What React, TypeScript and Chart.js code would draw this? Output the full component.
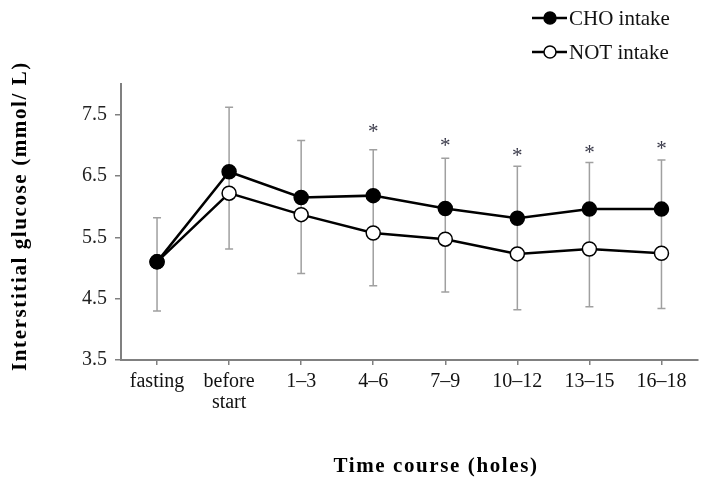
import React, { useEffect, useRef } from "react";
import { Chart, registerables } from "chart.js";

Chart.register(...registerables);

const categories: (string | string[])[] = ["fasting", ["before", "start"], "1–3", "4–6", "7–9", "10–12", "13–15", "16–18"];
const choIntake = [5.1, 6.57, 6.15, 6.18, 5.97, 5.81, 5.96, 5.96];
const notIntake = [5.1, 6.22, 5.87, 5.57, 5.47, 5.23, 5.31, 5.24];
const errUpper = [5.82, 7.62, 7.08, 6.93, 6.79, 6.66, 6.72, 6.76];
const errLower = [4.3, 5.31, 4.91, 4.71, 4.61, 4.32, 4.37, 4.34];
const sigLevel: (number | null)[] = [null, null, null, 7.27, 7.04, 6.88, 6.93, 6.99];
const yTicks = [3.5, 4.5, 5.5, 6.5, 7.5];
const legendLabels = ["CHO intake", "NOT intake"];
const xTitle = "Time course (holes)";
const yTitle = "Interstitial glucose (mmol/ L)";

const SERIF = "'Liberation Serif', 'Times New Roman', serif";

const overlayPlugin = {
  id: "overlay",
  beforeDatasetsDraw(chart: any) {
    const ctx = chart.ctx;
    const x = chart.scales.x;
    const y = chart.scales.y;
    ctx.save();
    ctx.strokeStyle = "#a0a0a0";
    ctx.lineWidth = 1.5;
    for (let i = 0; i < categories.length; i++) {
      const px = x.getPixelForValue(i);
      const t = y.getPixelForValue(errUpper[i]);
      const b = y.getPixelForValue(errLower[i]);
      ctx.beginPath();
      ctx.moveTo(px, t);
      ctx.lineTo(px, b);
      ctx.moveTo(px - 4, t);
      ctx.lineTo(px + 4, t);
      ctx.moveTo(px - 4, b);
      ctx.lineTo(px + 4, b);
      ctx.stroke();
    }
    ctx.restore();
  },
  afterDraw(chart: any) {
    const ctx = chart.ctx;
    const x = chart.scales.x;
    const y = chart.scales.y;
    ctx.save();
    // asterisks
    ctx.fillStyle = "#3a3a4a";
    ctx.font = `21px ${SERIF}`;
    ctx.textAlign = "center";
    ctx.textBaseline = "middle";
    for (let i = 0; i < sigLevel.length; i++) {
      const v = sigLevel[i];
      if (v == null) continue;
      ctx.fillText("*", x.getPixelForValue(i), y.getPixelForValue(v) + 4);
    }
    // legend
    const rows = [
      { label: legendLabels[0], fill: "#000", yy: 18 },
      { label: legendLabels[1], fill: "#fff", yy: 52 },
    ];
    for (const r of rows) {
      ctx.strokeStyle = "#000";
      ctx.lineWidth = 2.5;
      ctx.beginPath();
      ctx.moveTo(532, r.yy);
      ctx.lineTo(567, r.yy);
      ctx.stroke();
      ctx.beginPath();
      ctx.arc(550, r.yy, 6, 0, Math.PI * 2);
      ctx.fillStyle = r.fill;
      ctx.fill();
      ctx.lineWidth = 1.5;
      ctx.stroke();
      ctx.fillStyle = "#111";
      ctx.font = `21px ${SERIF}`;
      ctx.textAlign = "left";
      ctx.textBaseline = "middle";
      ctx.fillText(r.label, 569, r.yy + 1);
    }
    // axis titles
    ctx.fillStyle = "#000";
    ctx.font = `bold 21px ${SERIF}`;
    try { (ctx as any).letterSpacing = "1.6px"; } catch (e) {}
    ctx.textAlign = "center";
    ctx.textBaseline = "middle";
    ctx.fillText(xTitle, 436, 467);
    ctx.translate(21, 216);
    ctx.rotate(-Math.PI / 2);
    ctx.fillText(yTitle, 0, 0);
    ctx.restore();
  },
};

export default function App() {
  const ref = useRef<HTMLCanvasElement | null>(null);
  useEffect(() => {
    if (!ref.current) return;
    const chart = new Chart(ref.current, {
      type: "line",
      data: {
        labels: categories as any,
        datasets: [
          {
            label: legendLabels[0],
            data: choIntake,
            borderColor: "#000",
            borderWidth: 2.5,
            pointRadius: 7,
            pointBackgroundColor: "#000",
            pointBorderColor: "#000",
            pointBorderWidth: 1.5,
            tension: 0,
          },
          {
            label: legendLabels[1],
            data: notIntake,
            borderColor: "#000",
            borderWidth: 2.5,
            pointRadius: 7,
            pointBackgroundColor: "#fff",
            pointBorderColor: "#000",
            pointBorderWidth: 1.5,
            tension: 0,
          },
        ],
      },
      options: {
        animation: false,
        responsive: true,
        maintainAspectRatio: false,
        layout: { padding: { top: 84, right: 7, left: 0, bottom: 0 } },
        plugins: { legend: { display: false }, tooltip: { enabled: false } },
        scales: {
          x: {
            offset: true,
            grid: { display: true, drawOnChartArea: false, drawTicks: true, tickLength: 5, color: "#808080", lineWidth: 1.5, offset: false },
            border: { display: true, color: "#808080", width: 2 },
            ticks: { color: "#111", font: { family: SERIF, size: 20, lineHeight: 1.05 }, padding: 6, maxRotation: 0, autoSkip: false },
            afterFit: (s: any) => { s.height = 121; },
          },
          y: {
            min: 3.5,
            max: 8,
            grid: { display: true, drawOnChartArea: false, drawTicks: true, tickLength: 6, color: "#808080", lineWidth: 1.5 },
            border: { display: true, color: "#808080", width: 2 },
            afterBuildTicks: (s: any) => { s.ticks = yTicks.map((v) => ({ value: v })); },
            ticks: { color: "#222", font: { family: SERIF, size: 20 }, padding: 8, callback: (v: any) => Number(v).toFixed(1) },
            afterFit: (s: any) => { s.width = 121; },
          },
        },
      },
      plugins: [overlayPlugin],
    });
    return () => chart.destroy();
  }, []);
  return (
    <div style={{ position: "fixed", left: 0, top: 0, width: 706, height: 481, background: "#fff" }}>
      <canvas ref={ref} />
    </div>
  );
}
